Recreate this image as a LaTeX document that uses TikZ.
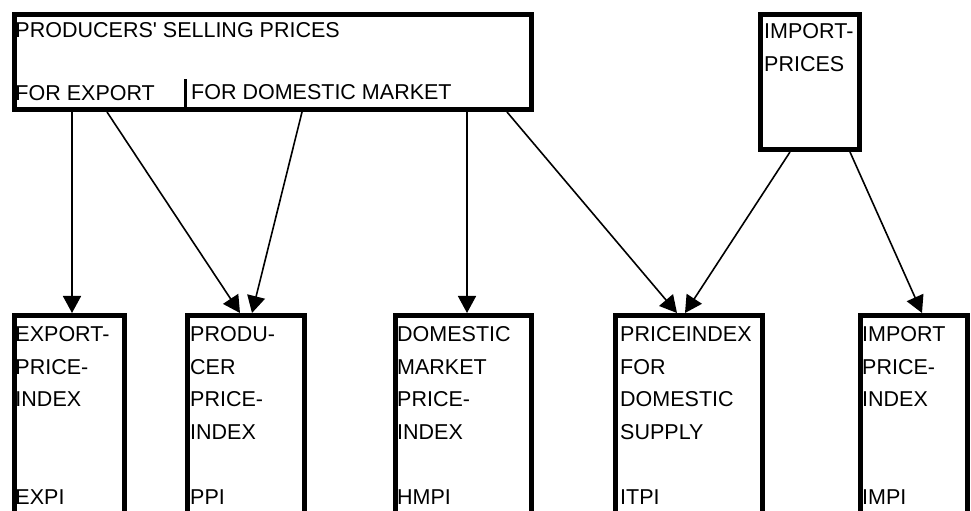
\documentclass[tikz,border=0pt]{standalone}
\usepackage{fontspec}
\setmainfont{Liberation Sans}
\usetikzlibrary{arrows.meta}
\begin{document}
\begin{tikzpicture}[x=1bp,y=-1bp,
  frame/.style={draw, line width=5bp, inner sep=0pt, outer sep=2.5bp, anchor=north west},
  colbox/.style={frame, minimum height=240bp},
  lbl/.style={inner sep=0pt, anchor=base west, font=\fontsize{21.5bp}{32.5bp}\selectfont},
  arr/.style={line width=1.6bp, -{Triangle[length=17bp,width=18bp]}},
  divider/.style={line width=3bp}]
\clip (0,0) rectangle (971,511);
\fill[white] (0,0) rectangle (971,511);
% boxes
\node[frame, minimum width=517bp, minimum height=95bp] (sell) at (12,12) {};
\node[frame, minimum width=99bp, minimum height=135bp] (imp) at (758,12) {};
\node[colbox, minimum width=110bp] (expi) at (12,313) {};
\node[colbox, minimum width=117bp] (ppi) at (185,313) {};
\node[colbox, minimum width=136bp] (hmpi) at (393,313) {};
\node[colbox, minimum width=147bp] (itpi) at (613,313) {};
\node[colbox, minimum width=107bp] (impi) at (858,313) {};
% divider in the top box
\draw[divider] ([xshift=173bp]sell.south west) -- ++(0,-33);
% texts
\node[lbl] (tsell) at (15.3,37.5) {\vtop{\baselineskip=31.5bp\hbox{PRODUCERS\textquotesingle{} SELLING PRICES}\hbox{}\hbox{FOR EXPORT}}};
\node[lbl] (tdom) at (191,100) {FOR DOMESTIC MARKET};
\node[lbl] (timp) at (764,38.3) {\vtop{\baselineskip=33.4bp\hbox{IMPORT-}\hbox{PRICES}}};
\node[lbl] (texpi) at (15.3,341.7) {\vtop{\hbox{EXPORT-}\hbox{PRICE-}\hbox{INDEX}\hbox{}\hbox{}\hbox{EXPI}}};
\node[lbl] (tppi) at (190,341.7) {\vtop{\hbox{PRODU-}\hbox{CER}\hbox{PRICE-}\hbox{INDEX}\hbox{}\hbox{PPI}}};
\node[lbl] (thmpi) at (397,341.7) {\vtop{\hbox{DOMESTIC}\hbox{MARKET}\hbox{PRICE-}\hbox{INDEX}\hbox{}\hbox{HMPI}}};
\node[lbl] (titpi) at (620,341.7) {\vtop{\hbox{PRICEINDEX}\hbox{FOR}\hbox{DOMESTIC}\hbox{SUPPLY}\hbox{}\hbox{ITPI}}};
\node[lbl] (timpi) at (862,341.7) {\vtop{\hbox{IMPORT}\hbox{PRICE-}\hbox{INDEX}\hbox{}\hbox{}\hbox{IMPI}}};
% connectors
\draw[arr] ([xshift=60bp]sell.south west) -- ([xshift=60bp]expi.north west);
\draw[arr] ([xshift=95bp]sell.south west) -- ([xshift=55bp]ppi.north west);
\draw[arr] ([xshift=290bp]sell.south west) -- ([xshift=67bp]ppi.north west);
\draw[arr] ([xshift=455bp]sell.south west) -- ([xshift=74bp]hmpi.north west);
\draw[arr] ([xshift=495bp]sell.south west) -- ([xshift=64bp]itpi.north west);
\draw[arr] ([xshift=32bp]imp.south west) -- ([xshift=72bp]itpi.north west);
\draw[arr] ([xshift=92bp]imp.south west) -- ([xshift=64bp]impi.north west);
\end{tikzpicture}
\end{document}
